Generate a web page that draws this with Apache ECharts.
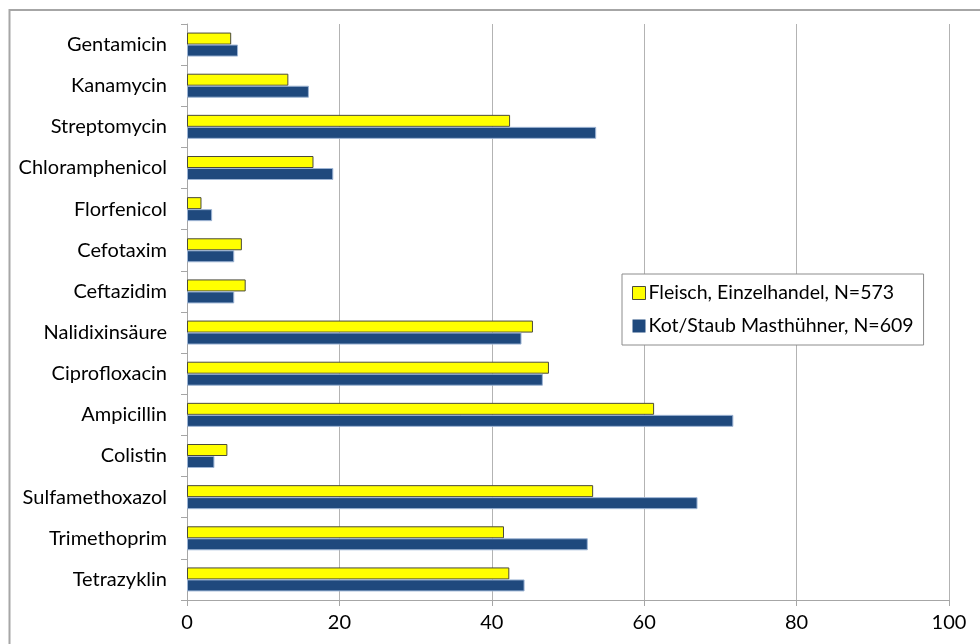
<!DOCTYPE html>
<html>
<head>
<meta charset="utf-8">
<script src="https://cdn.jsdelivr.net/npm/echarts@6/dist/echarts.min.js"></script>
<style>
  html, body { margin: 0; padding: 0; background: #ffffff; }
  #chart { width: 980px; height: 644px; }
</style>
</head>
<body>
<div id="chart"></div>
<script>
// Antibiotics, listed top to bottom
const categories = [
  'Gentamicin', 'Kanamycin', 'Streptomycin', 'Chloramphenicol', 'Florfenicol',
  'Cefotaxim', 'Ceftazidim', 'Nalidixinsäure', 'Ciprofloxacin', 'Ampicillin',
  'Colistin', 'Sulfamethoxazol', 'Trimethoprim', 'Tetrazyklin'
];

const seriesNames = ['Fleisch, Einzelhandel, N=573', 'Kot/Staub Masthühner, N=609'];

// Resistance rates in percent, same order as categories
const fleischValues = [5.8, 13.3, 42.4, 16.6, 1.9, 7.2, 7.7, 45.4, 47.5, 61.3, 5.3, 53.3, 41.6, 42.3];
const kotValues     = [6.7, 16.0, 53.7, 19.2, 3.3, 6.2, 6.2, 43.9, 46.7, 71.7, 3.6, 67.0, 52.6, 44.3];

const xTicks = [0, 20, 40, 60, 80, 100];

const FONT = 'Lato';
const FONT_SIZE = 20;
const LEGEND_FONT_SIZE = 19.5;

const YELLOW = '#ffff00';
const BLUE = '#1f497d';

const chart = echarts.init(document.getElementById('chart'), null, { renderer: 'canvas' });

chart.setOption({
  animation: false,
  backgroundColor: '#ffffff',
  graphic: [{
    type: 'rect',
    shape: { x: 9.5, y: 10, width: 1000, height: 700 },
    style: { fill: 'none', stroke: '#a6a6a6', lineWidth: 2 },
    silent: true
  }],
  grid: { left: 187, right: 31, top: 24, bottom: 44, containLabel: false },
  legend: {
    orient: 'vertical',
    left: 622,
    top: 274,
    data: [
      { name: seriesNames[0], itemStyle: { color: YELLOW, borderColor: '#4a4a3a', borderWidth: 1 } },
      { name: seriesNames[1], itemStyle: { color: BLUE, borderWidth: 0 } }
    ],
    itemWidth: 13,
    itemHeight: 13,
    itemGap: 13,
    padding: [9, 10, 9, 10],
    borderColor: '#8c8c8c',
    borderWidth: 1,
    backgroundColor: '#ffffff',
    textStyle: { fontFamily: FONT, fontSize: LEGEND_FONT_SIZE, color: '#000000', padding: [0, 0, 0, -2] },
    icon: 'rect'
  },
  xAxis: {
    type: 'value',
    min: xTicks[0],
    max: xTicks[xTicks.length - 1],
    interval: xTicks[1] - xTicks[0],
    axisLine: { show: true, lineStyle: { color: '#a6a6a6', width: 1 } },
    axisTick: { show: true, length: 6, lineStyle: { color: '#a6a6a6' } },
    axisLabel: { fontFamily: FONT, fontSize: FONT_SIZE, color: '#000000', margin: 13 },
    splitLine: { show: true, lineStyle: { color: '#b3b3b3', width: 1 } }
  },
  yAxis: {
    type: 'category',
    data: categories,
    inverse: true,
    axisLine: { show: true, lineStyle: { color: '#a6a6a6', width: 1 } },
    axisTick: { show: true, length: 6, alignWithLabel: false, lineStyle: { color: '#a6a6a6' } },
    axisLabel: { fontFamily: FONT, fontSize: FONT_SIZE, color: '#000000', margin: 20 }
  },
  series: [
    {
      name: seriesNames[0],
      type: 'bar',
      data: fleischValues,
      barWidth: 12,
      barGap: '0%',
      itemStyle: { color: YELLOW, borderColor: '#4a4a3a', borderWidth: 1 }
    },
    {
      name: seriesNames[1],
      type: 'bar',
      data: kotValues,
      barWidth: 12,
      barGap: '0%',
      itemStyle: { color: BLUE, borderColor: '#9db4d4', borderWidth: 1 }
    }
  ]
});
</script>
</body>
</html>
